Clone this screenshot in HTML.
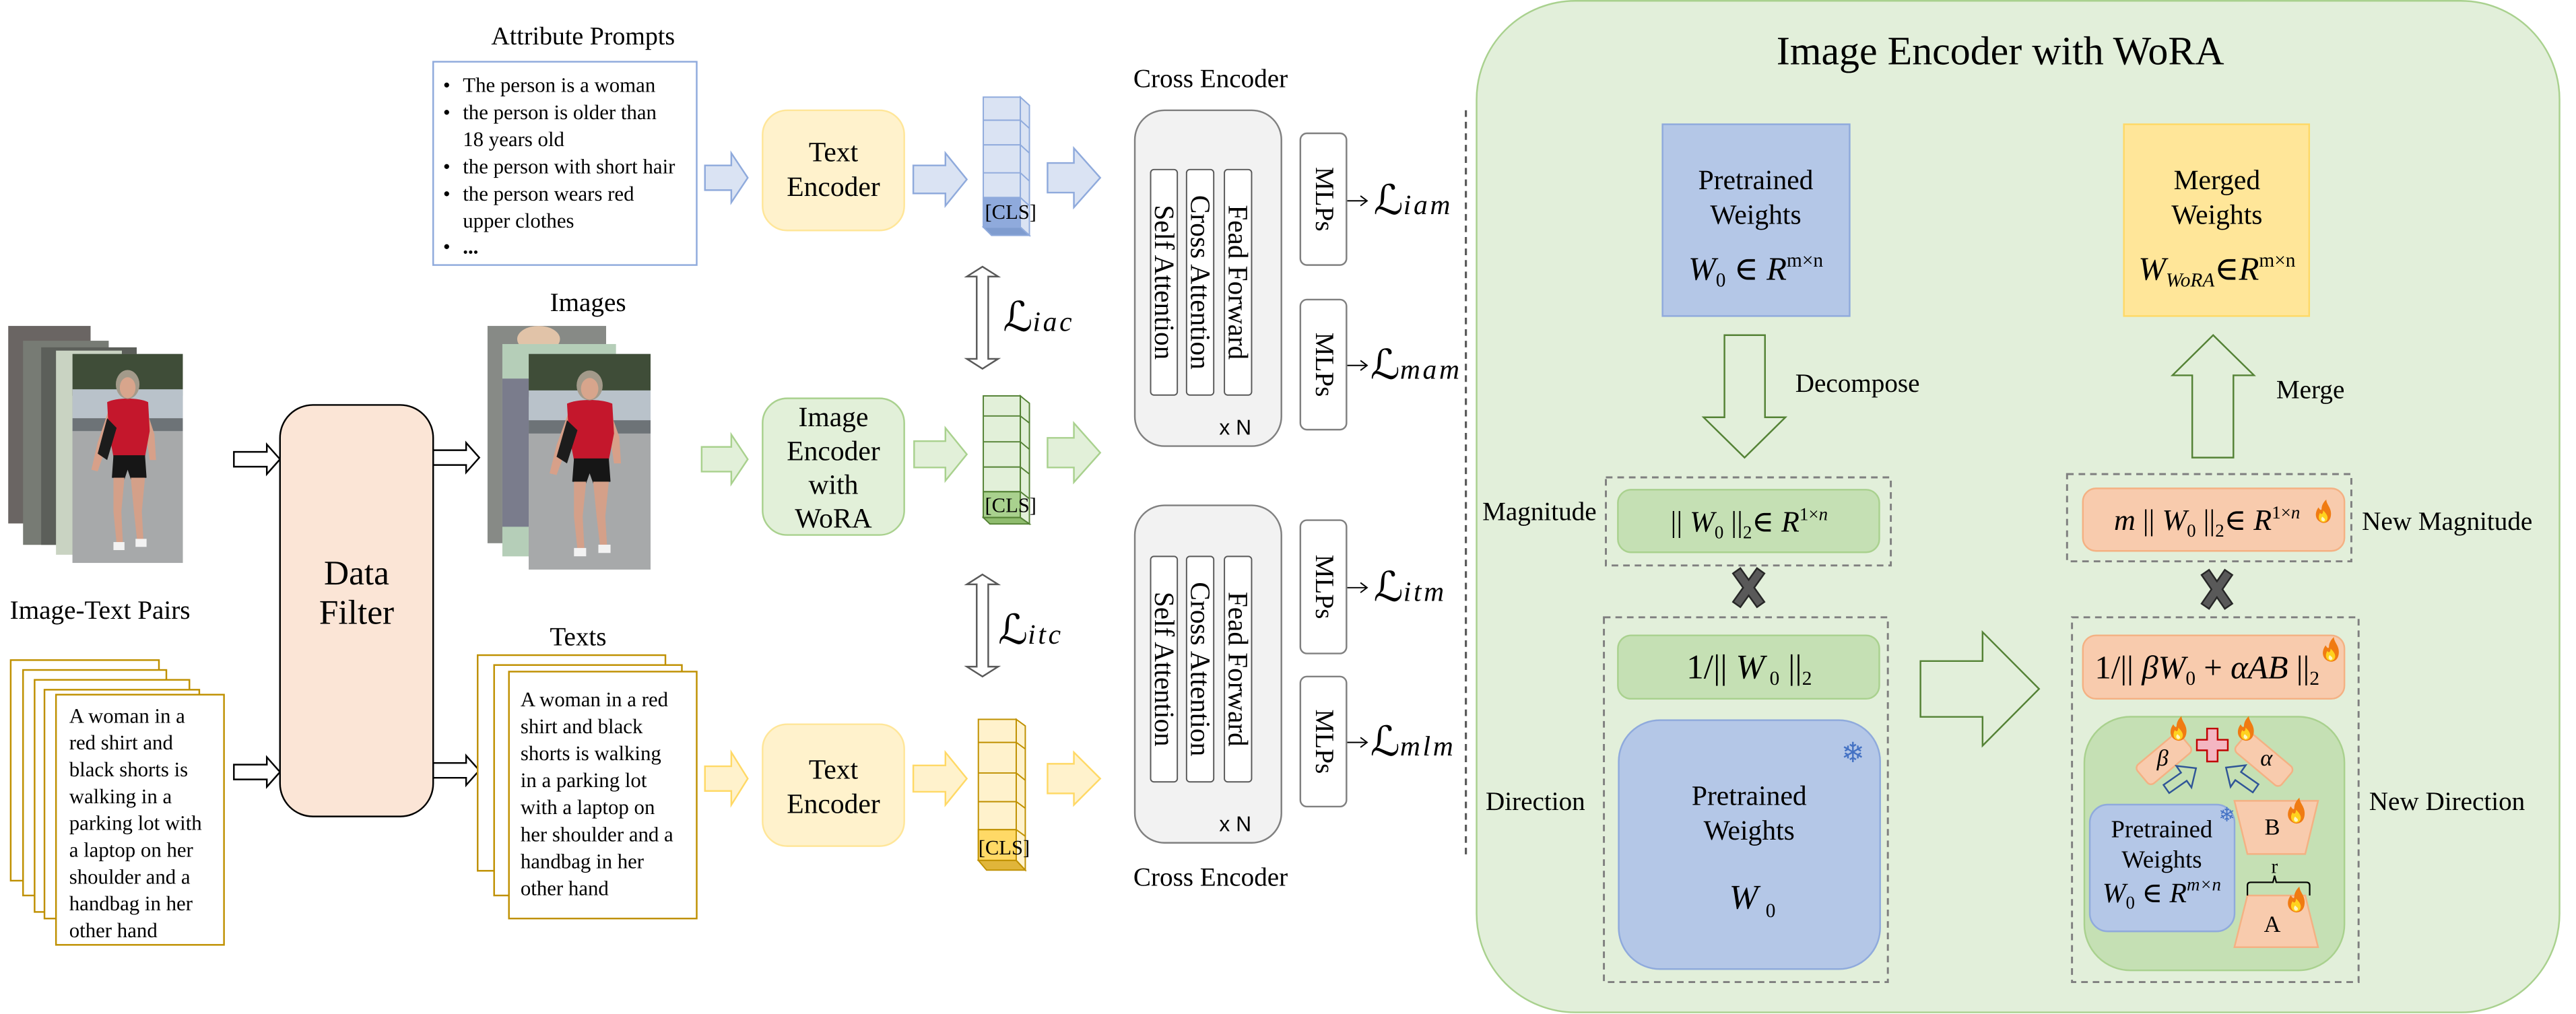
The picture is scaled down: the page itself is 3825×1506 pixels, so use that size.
<!DOCTYPE html>
<html><head><meta charset="utf-8"><style>
html,body{margin:0;padding:0;background:#fff;}
svg{display:block;text-rendering:geometricPrecision;}
text,tspan{font-family:"Liberation Serif","DejaVu Serif",serif;}
text{fill:#000;}
.it{font-style:italic;}
.sc{font-family:"DejaVu Serif","DejaVu Sans",serif;font-style:italic;}
</style></head><body>
<svg width="3825" height="1506" viewBox="0 0 1564 616" preserveAspectRatio="none" xmlns="http://www.w3.org/2000/svg" font-family="Liberation Serif, DejaVu Serif, serif" text-rendering="geometricPrecision">
<defs>
<g id="flame">
<path d="M0,6 C-5,5 -6,0 -3,-4 C-2,-2 -1,-2 -1,-3 C-1,-6 1,-8 2,-9 C2,-6 5,-4 5,0 C5,4 3,6 0,6Z" fill="#f07b12"/>
<path d="M0,5.5 C-3,5 -3.5,2 -2,-0.5 C-1,1 0,0 0,-2 C2,0 3.5,2 2.5,4 C2,5 1,5.5 0,5.5Z" fill="#ffd21f"/>
<path d="M0,5 C-1.5,4.5 -1.5,3 -0.5,2 C0.5,3 1.5,3.5 1,4.5Z" fill="#fff6c0"/>
</g>
<symbol id="person" viewBox="0 0 70 130" preserveAspectRatio="none">
<rect x="0" y="0" width="70" height="130" fill="#9a9d9f"/>
<rect x="0" y="0" width="70" height="26" fill="#3f4d38"/>
<rect x="0" y="22" width="70" height="24" fill="#b9c2ca"/>
<rect x="0" y="40" width="70" height="8" fill="#6d7377"/>
<rect x="0" y="48" width="70" height="82" fill="#a7a9aa"/>
<path d="M24,32 L16,55 L12,72 L16,73 L22,56 L27,42Z" fill="#d7a089"/>
<path d="M46,32 L52,50 L53,66 L49,66 L47,52 L43,42Z" fill="#d7a089"/>
<path d="M22,30 C28,27 42,27 48,30 L49,48 L46,64 L26,64 L23,48Z" fill="#c4172c"/>
<path d="M22,40 L16,62 L22,66 L28,46Z" fill="#1c1c1c"/>
<ellipse cx="35" cy="19" rx="7.5" ry="9" fill="#a39a8a"/>
<ellipse cx="35" cy="21" rx="5" ry="6.5" fill="#d8a58c"/>
<path d="M26,63 L46,63 L47,77 L37,78 L35,72 L33,78 L25,77Z" fill="#161616"/>
<path d="M26,77 L33,77 L31,98 L32,118 L28,118 L26,98Z" fill="#d4a089"/>
<path d="M37,77 L46,77 L44,98 L45,116 L41,116 L39,98Z" fill="#d4a089"/>
<rect x="26" y="117" width="7" height="5" fill="#f2f2f2"/>
<rect x="40" y="115" width="7" height="5" fill="#f2f2f2"/>
</symbol>
</defs>

<rect x="5" y="198" width="50" height="120" fill="#6a6563"/>
<rect x="14" y="207" width="52" height="124" fill="#777b74"/>
<rect x="25" y="211" width="58" height="120" fill="#5c5f5a"/>
<rect x="34" y="213" width="40" height="124" fill="#c9d3c2"/>
<use href="#person" x="44" y="215" width="67" height="127"/>
<text x="6" y="376" font-size="16.01">Image-Text Pairs</text>

<g fill="#fff" stroke="#bf9000" stroke-width="1">
<rect x="6.5" y="401" width="90" height="134"/>
<rect x="14" y="407" width="87" height="137"/>
<rect x="21" y="413" width="94" height="141"/>
<rect x="27" y="419" width="94" height="139"/>
<rect x="34" y="422" width="102" height="152"/>
</g>
<g font-size="12.61">
<text x="42" y="439">A woman in a</text>
<text x="42" y="455.3">red shirt and</text>
<text x="42" y="471.6">black shorts is</text>
<text x="42" y="487.9">walking in a</text>
<text x="42" y="504.2">parking lot with</text>
<text x="42" y="520.5">a laptop on her</text>
<text x="42" y="536.8">shoulder and a</text>
<text x="42" y="553.1">handbag in her</text>
<text x="42" y="569.4">other hand</text>
</g>

<g fill="#fff" stroke="#000" stroke-width="1">
<path d="M142,274.5 L162,274.5 L162,270 L170,279 L162,288 L162,283.5 L142,283.5Z"/>
<path d="M142,464.5 L162,464.5 L162,460 L170,469 L162,478 L162,473.5 L142,473.5Z"/>
<path d="M263,273.5 L283,273.5 L283,269 L291,278 L283,287 L283,282.5 L263,282.5Z"/>
<path d="M263,463.5 L283,463.5 L283,459 L291,468 L283,477 L283,472.5 L263,472.5Z"/>
</g>

<rect x="170" y="246" width="93" height="250" rx="20" fill="#fbe5d6" stroke="#000" stroke-width="1"/>
<text x="216.5" y="355" font-size="21.01" text-anchor="middle">Data</text>
<text x="216.5" y="379" font-size="21.01" text-anchor="middle">Filter</text>

<text x="354" y="27" font-size="15.51" text-anchor="middle">Attribute Prompts</text>
<rect x="263" y="37.5" width="160" height="123.5" fill="#fff" stroke="#8faadc" stroke-width="1"/>
<g font-size="12.61">
<text x="269" y="55.8">•</text><text x="281" y="55.8">The person is a woman</text>
<text x="269" y="72.3">•</text><text x="281" y="72.3">the person is older than</text>
<text x="281" y="88.8">18 years old</text>
<text x="269" y="105.3">•</text><text x="281" y="105.3">the person with short hair</text>
<text x="269" y="121.8">•</text><text x="281" y="121.8">the person wears red</text>
<text x="281" y="138.3">upper clothes</text>
<text x="269" y="154">•</text><text x="281" y="154" font-weight="bold">...</text>
</g>

<text x="357" y="189" font-size="16.01" text-anchor="middle">Images</text>
<rect x="296" y="198" width="72" height="132" fill="#878a86"/>
<ellipse cx="327" cy="206" rx="13" ry="8" fill="#e1c3a8"/>
<rect x="305" y="209" width="69" height="129" fill="#b5ceb8"/>
<rect x="305" y="230" width="16" height="90" fill="#7a7c8c"/>
<use href="#person" x="321" y="215" width="74" height="131"/>

<text x="351" y="392" font-size="16.01" text-anchor="middle">Texts</text>
<g fill="#fff" stroke="#bf9000" stroke-width="1">
<rect x="290" y="398" width="114" height="131"/>
<rect x="300" y="404" width="114" height="140"/>
<rect x="309" y="408" width="114" height="150"/>
</g>
<g font-size="12.61">
<text x="316" y="429">A woman in a red</text>
<text x="316" y="445.4">shirt and black</text>
<text x="316" y="461.8">shorts is walking</text>
<text x="316" y="478.2">in a parking lot</text>
<text x="316" y="494.6">with a laptop on</text>
<text x="316" y="511">her shoulder and a</text>
<text x="316" y="527.4">handbag in her</text>
<text x="316" y="543.8">other hand</text>
</g>

<path d="M428,100.5 L444,100.5 L444,93 L454,108 L444,123 L444,115.5 L428,115.5Z" fill="#dae3f3" stroke="#8faadc"/>
<path d="M426,271.5 L444,271.5 L444,264 L454,279 L444,294 L444,286.5 L426,286.5Z" fill="#e2f0d9" stroke="#a9d18e"/>
<path d="M428,465.5 L444,465.5 L444,457 L454,473 L444,489 L444,480.5 L428,480.5Z" fill="#fff2cc" stroke="#ffd966"/>

<rect x="463" y="67" width="86" height="73" rx="15" fill="#fff2cc" stroke="#ffe699" stroke-width="1"/>
<text x="506" y="98" font-size="17.01" text-anchor="middle">Text</text>
<text x="506" y="119" font-size="17.01" text-anchor="middle">Encoder</text>
<rect x="463" y="242" width="86" height="83" rx="15" fill="#e2f0d9" stroke="#a9d18e" stroke-width="1"/>
<text x="506" y="259" font-size="17.01" text-anchor="middle">Image</text>
<text x="506" y="279.5" font-size="17.01" text-anchor="middle">Encoder</text>
<text x="506" y="300" font-size="17.01" text-anchor="middle">with</text>
<text x="506" y="320.5" font-size="17.01" text-anchor="middle">WoRA</text>
<rect x="463" y="440" width="86" height="74" rx="15" fill="#fff2cc" stroke="#ffe699" stroke-width="1"/>
<text x="506" y="473" font-size="17.01" text-anchor="middle">Text</text>
<text x="506" y="494" font-size="17.01" text-anchor="middle">Encoder</text>

<path d="M554.5,100.5 L574,100.5 L574,93 L587,109 L574,125 L574,117.5 L554.5,117.5Z" fill="#dae3f3" stroke="#8faadc"/>
<path d="M555,268 L574,268 L574,260 L587,276 L574,292 L574,284 L555,284Z" fill="#e2f0d9" stroke="#a9d18e"/>
<path d="M554.5,465 L574,465 L574,457 L587,473 L574,489 L574,481 L554.5,481Z" fill="#fff2cc" stroke="#ffd966"/>

<g stroke="#8faadc" stroke-width="0.8">
<rect x="597" y="59" width="22.5" height="79" fill="#dae3f3"/>
<rect x="597" y="120" width="22.5" height="18" fill="#8faadc"/>
<path d="M619.5,59 L625,64 L625,143 L619.5,138Z" fill="#dae3f3"/>
<path d="M597,138 L619.5,138 L625,143 L602,143Z" fill="#7f9ccf"/>
<path d="M597,73 L619.5,73 L625,78 M597,88 L619.5,88 L625,93 M597,105 L619.5,105 L625,110 M597,120 L619.5,120 L625,125" fill="none"/>
</g>
<text x="598" y="133" font-size="12.51">[CLS]</text>
<g stroke="#548235" stroke-width="0.8">
<rect x="597" y="240.5" width="22.5" height="74" fill="#e2f0d9"/>
<rect x="597" y="298.7" width="22.5" height="15.7" fill="#a9d18e"/>
<path d="M619.5,240.5 L625,245 L625,318.3 L619.5,314.4Z" fill="#e2f0d9"/>
<path d="M597,314.4 L619.5,314.4 L625,318.3 L601,318.3Z" fill="#8fbc6e"/>
<path d="M597,252.7 L619.5,252.7 L625,257 M597,268.4 L619.5,268.4 L625,273 M597,283.7 L619.5,283.7 L625,288 M597,298.7 L619.5,298.7 L625,303" fill="none"/>
</g>
<text x="598" y="311" font-size="12.51">[CLS]</text>
<g stroke="#bf9000" stroke-width="0.8">
<rect x="594" y="437" width="23" height="85.7" fill="#fff2cc"/>
<rect x="594" y="504" width="23" height="18.7" fill="#ffd966"/>
<path d="M617,437 L622.5,441 L622.5,528.6 L617,522.7Z" fill="#fff2cc"/>
<path d="M594,522.7 L617,522.7 L622.5,528.6 L599,528.6Z" fill="#e0b53a"/>
<path d="M594,451 L617,451 L622.5,455 M594,469.6 L617,469.6 L622.5,474 M594,487 L617,487 L622.5,491 M594,504 L617,504 L622.5,508" fill="none"/>
</g>
<text x="594" y="519" font-size="12.51">[CLS]</text>

<g fill="#fff" stroke="#595959" stroke-width="1">
<path d="M596.5,162 L606,168 L600,168 L600,218 L606,218 L596.5,224 L587,218 L593,218 L593,168 L587,168Z"/>
<path d="M596.5,349 L606,355 L600,355 L600,405 L606,405 L596.5,411 L587,405 L593,405 L593,355 L587,355Z"/>
</g>
<text x="609" y="201"><tspan class="sc" font-size="25.01">ℒ</tspan><tspan class="it" font-size="17.01" letter-spacing="1.5">iac</tspan></text>
<text x="606" y="391"><tspan class="sc" font-size="25.01">ℒ</tspan><tspan class="it" font-size="17.01" letter-spacing="1.5">itc</tspan></text>

<path d="M636,99 L652,99 L652,90 L668,108 L652,126 L652,117 L636,117Z" fill="#dae3f3" stroke="#8faadc"/>
<path d="M636,266 L652,266 L652,257 L668,275 L652,293 L652,284 L636,284Z" fill="#e2f0d9" stroke="#a9d18e"/>
<path d="M636,464 L652,464 L652,457 L668,473 L652,489 L652,482 L636,482Z" fill="#fff2cc" stroke="#ffd966"/>

<text x="735" y="53" font-size="16.01" text-anchor="middle">Cross Encoder</text>
<rect x="689" y="67" width="89" height="204" rx="18" fill="#f2f2f2" stroke="#808080" stroke-width="1"/>
<g fill="#fff" stroke="#595959" stroke-width="0.8">
<rect x="698.6" y="103" width="16.2" height="137" rx="2"/>
<rect x="720.4" y="103" width="16.5" height="137" rx="2"/>
<rect x="743.4" y="103" width="16.5" height="137" rx="2"/>
</g>
<text transform="translate(706.7,171.5) rotate(90)" font-size="17.01" text-anchor="middle" dominant-baseline="central" textLength="94" lengthAdjust="spacingAndGlyphs">Self Attention</text>
<text transform="translate(728.6,171.5) rotate(90)" font-size="17.01" text-anchor="middle" dominant-baseline="central" textLength="106" lengthAdjust="spacingAndGlyphs">Cross Attention</text>
<text transform="translate(751.6,171.5) rotate(90)" font-size="17.01" text-anchor="middle" dominant-baseline="central" textLength="94" lengthAdjust="spacingAndGlyphs">Fead Forward</text>
<text x="750" y="264" font-size="13.01" text-anchor="middle" style="font-family:'Liberation Sans',sans-serif">x N</text>

<rect x="689" y="307" width="89" height="205" rx="18" fill="#f2f2f2" stroke="#808080" stroke-width="1"/>
<g fill="#fff" stroke="#595959" stroke-width="0.8">
<rect x="698.6" y="338" width="16.2" height="137" rx="2"/>
<rect x="720.4" y="338" width="16.5" height="137" rx="2"/>
<rect x="743.4" y="338" width="16.5" height="137" rx="2"/>
</g>
<text transform="translate(706.7,406.5) rotate(90)" font-size="17.01" text-anchor="middle" dominant-baseline="central" textLength="94" lengthAdjust="spacingAndGlyphs">Self Attention</text>
<text transform="translate(728.6,406.5) rotate(90)" font-size="17.01" text-anchor="middle" dominant-baseline="central" textLength="106" lengthAdjust="spacingAndGlyphs">Cross Attention</text>
<text transform="translate(751.6,406.5) rotate(90)" font-size="17.01" text-anchor="middle" dominant-baseline="central" textLength="94" lengthAdjust="spacingAndGlyphs">Fead Forward</text>
<text x="750" y="505" font-size="13.01" text-anchor="middle" style="font-family:'Liberation Sans',sans-serif">x N</text>
<text x="735" y="538" font-size="16.01" text-anchor="middle">Cross Encoder</text>

<g fill="#fff" stroke="#808080" stroke-width="1">
<rect x="789.5" y="81" width="28" height="80" rx="4"/>
<rect x="789.5" y="182" width="28" height="79" rx="4"/>
<rect x="789.5" y="316" width="28" height="81" rx="4"/>
<rect x="789.5" y="411" width="28" height="79" rx="4"/>
</g>
<g font-size="16.01" text-anchor="middle" dominant-baseline="central">
<text transform="translate(803.5,121) rotate(90)">MLPs</text>
<text transform="translate(803.5,221.5) rotate(90)">MLPs</text>
<text transform="translate(803.5,356.5) rotate(90)">MLPs</text>
<text transform="translate(803.5,450.5) rotate(90)">MLPs</text>
</g>
<g stroke="#000" stroke-width="0.8" fill="none">
<path d="M818,122 L830,122 M826,119 L830,122 L826,125"/>
<path d="M818,222 L830,222 M826,219 L830,222 L826,225"/>
<path d="M818,357 L830,357 M826,354 L830,357 L826,360"/>
<path d="M818,451 L830,451 M826,448 L830,451 L826,454"/>
</g>
<text x="834" y="130"><tspan class="sc" font-size="25.01">ℒ</tspan><tspan class="it" font-size="17.01" letter-spacing="1.5">iam</tspan></text>
<text x="832" y="230"><tspan class="sc" font-size="25.01">ℒ</tspan><tspan class="it" font-size="17.01" letter-spacing="1.5">mam</tspan></text>
<text x="834" y="365"><tspan class="sc" font-size="25.01">ℒ</tspan><tspan class="it" font-size="17.01" letter-spacing="1.5">itm</tspan></text>
<text x="832" y="459"><tspan class="sc" font-size="25.01">ℒ</tspan><tspan class="it" font-size="17.01" letter-spacing="1.5">mlm</tspan></text>

<line x1="890" y1="67" x2="890" y2="519" stroke="#595959" stroke-width="1.3" stroke-dasharray="4,3"/>

<rect x="896.5" y="0.5" width="657.5" height="614.5" rx="60" fill="#e2efda" stroke="#a9d18e" stroke-width="1"/>
<text x="1214.5" y="39" font-size="24.51" text-anchor="middle">Image Encoder with WoRA</text>

<rect x="1009.4" y="75.5" width="113.6" height="116.5" fill="#b4c7e7" stroke="#8faadc" stroke-width="1"/>
<text x="1066" y="115" font-size="17.01" text-anchor="middle">Pretrained</text>
<text x="1066" y="136" font-size="17.01" text-anchor="middle">Weights</text>
<text x="1066" y="170" font-size="20.01" text-anchor="middle"><tspan class="it">W</tspan><tspan font-size="12.01" dy="4">0</tspan><tspan dy="-4"> ∈ </tspan><tspan class="it">R</tspan><tspan font-size="12.01" dy="-8">m×n</tspan></text>

<rect x="1289.5" y="75.5" width="112.5" height="116.5" fill="#ffe699" stroke="#ffd966" stroke-width="1"/>
<text x="1346" y="115" font-size="17.01" text-anchor="middle">Merged</text>
<text x="1346" y="136" font-size="17.01" text-anchor="middle">Weights</text>
<text x="1346" y="170" font-size="20.01" text-anchor="middle"><tspan class="it">W</tspan><tspan class="it" font-size="12.01" dy="4">WoRA</tspan><tspan dy="-4">∈</tspan><tspan class="it">R</tspan><tspan font-size="12.01" dy="-8">m×n</tspan></text>

<g fill="none" stroke="#548235" stroke-width="1">
<path d="M1047,203.6 L1071.6,203.6 L1071.6,253.5 L1084,253.5 L1059.2,278 L1034.3,253.5 L1047,253.5Z"/>
<path d="M1331,278 L1356,278 L1356,228 L1368.5,228 L1343.7,203.6 L1319,228 L1331,228Z"/>
<path d="M1166,401.6 L1203.7,401.6 L1203.7,384 L1238,418.5 L1203.7,453 L1203.7,435.5 L1166,435.5Z"/>
</g>
<text x="1090" y="238" font-size="16.01">Decompose</text>
<text x="1382" y="242" font-size="16.01">Merge</text>

<text x="900" y="316" font-size="16.01">Magnitude</text>
<rect x="975" y="290" width="173" height="53.5" fill="none" stroke="#7f7f7f" stroke-width="1.2" stroke-dasharray="4,3"/>
<rect x="982.3" y="297.5" width="158.7" height="38" rx="8" fill="#c5e0b4" stroke="#a9d18e" stroke-width="1"/>
<text x="1062" y="323" font-size="18.01" text-anchor="middle">|| <tspan class="it">W</tspan><tspan font-size="11.01" dy="4">0</tspan><tspan dy="-4"> ||</tspan><tspan font-size="11.01" dy="4">2</tspan><tspan dy="-4">∈ </tspan><tspan class="it">R</tspan><tspan font-size="11.01" dy="-7">1×</tspan><tspan class="it" font-size="11.01">n</tspan></text>

<g stroke="#262626" stroke-width="6.5" stroke-linecap="square"><path d="M1056,349 L1067.4,365 M1067.4,349 L1056,365"/></g>
<g stroke="#595959" stroke-width="4.5" stroke-linecap="square"><path d="M1056,349 L1067.4,365 M1067.4,349 L1056,365"/></g>

<text x="902" y="492" font-size="16.01">Direction</text>
<rect x="973.8" y="375" width="172.4" height="221.6" fill="none" stroke="#7f7f7f" stroke-width="1.2" stroke-dasharray="4,3"/>
<rect x="982.3" y="386" width="158.7" height="38.5" rx="8" fill="#c5e0b4" stroke="#a9d18e" stroke-width="1"/>
<text x="1062" y="412" font-size="21.01" text-anchor="middle">1/|| <tspan class="it">W</tspan><tspan font-size="12.01" dy="4"> 0</tspan><tspan dy="-4"> ||</tspan><tspan font-size="12.01" dy="4">2</tspan></text>
<rect x="982.8" y="437.5" width="158.7" height="151.2" rx="25" fill="#b4c7e7" stroke="#8faadc" stroke-width="1"/>
<text x="1125" y="463" font-size="17.01" text-anchor="middle" style="font-family:'DejaVu Sans',sans-serif;fill:#4472c4">❄</text>
<text x="1062" y="489" font-size="17.01" text-anchor="middle">Pretrained</text>
<text x="1062" y="510" font-size="17.01" text-anchor="middle">Weights</text>
<text x="1058.7" y="552" font-size="21.01" class="it" text-anchor="middle">W</text>
<text x="1075" y="557" font-size="12.01" text-anchor="middle">0</text>

<rect x="1255" y="288" width="172.6" height="53" fill="none" stroke="#7f7f7f" stroke-width="1.2" stroke-dasharray="4,3"/>
<rect x="1264.6" y="296.7" width="158.8" height="38" rx="8" fill="#f8cbad" stroke="#f4b183" stroke-width="1"/>
<text x="1340" y="322" font-size="18.01" text-anchor="middle"><tspan class="it">m</tspan> || <tspan class="it">W</tspan><tspan font-size="11.01" dy="4">0</tspan><tspan dy="-4"> ||</tspan><tspan font-size="11.01" dy="4">2</tspan><tspan dy="-4">∈ </tspan><tspan class="it">R</tspan><tspan font-size="11.01" dy="-7">1×</tspan><tspan class="it" font-size="11.01">n</tspan></text>
<use href="#flame" transform="translate(1410.5,312) scale(0.95)"/>
<text x="1434" y="322" font-size="16.01">New Magnitude</text>

<g stroke="#262626" stroke-width="6.5" stroke-linecap="square"><path d="M1340.5,350 L1351.5,366 M1351.5,350 L1340.5,366"/></g>
<g stroke="#595959" stroke-width="4.5" stroke-linecap="square"><path d="M1340.5,350 L1351.5,366 M1351.5,350 L1340.5,366"/></g>

<rect x="1258" y="375" width="174" height="221.6" fill="none" stroke="#7f7f7f" stroke-width="1.2" stroke-dasharray="4,3"/>
<rect x="1264.6" y="386" width="158.8" height="38.5" rx="8" fill="#f8cbad" stroke="#f4b183" stroke-width="1"/>
<text x="1340" y="412" font-size="20.01" text-anchor="middle">1/|| <tspan class="it">βW</tspan><tspan font-size="12.01" dy="4">0</tspan><tspan dy="-4"> + </tspan><tspan class="it">αAB</tspan> ||<tspan font-size="12.01" dy="4">2</tspan></text>
<use href="#flame" transform="translate(1415,396) scale(1)"/>
<text x="1438.4" y="492" font-size="16.01">New Direction</text>

<rect x="1265.5" y="435.4" width="157.9" height="154.1" rx="28" fill="#c5e0b4" stroke="#a9d18e" stroke-width="1"/>
<g transform="translate(1313.8,461) rotate(-40)"><rect x="-17" y="-7.5" width="34" height="15" rx="3" fill="#f8cbad" stroke="#f4b183" stroke-width="1"/></g>
<g transform="translate(1374.5,461.4) rotate(40)"><rect x="-18" y="-7.5" width="36" height="15" rx="3" fill="#f8cbad" stroke="#f4b183" stroke-width="1"/></g>
<text x="1313" y="465" font-size="14.01" class="it" text-anchor="middle">β</text>
<text x="1376" y="465" font-size="14.01" class="it" text-anchor="middle">α</text>
<path d="M1340,442.6 L1346.4,442.6 L1346.4,449.4 L1352.6,449.4 L1352.6,455.8 L1346.4,455.8 L1346.4,462.6 L1340,462.6 L1340,455.8 L1333.8,455.8 L1333.8,449.4 L1340,449.4Z" fill="#f4b6c2" stroke="#c00000" stroke-width="1"/>
<use href="#flame" transform="translate(1322.5,444) scale(1)"/>
<use href="#flame" transform="translate(1363.4,444) scale(1)"/>
<g transform="translate(1324.3,473) rotate(-35)" fill="none" stroke="#2f5597" stroke-width="1"><path d="M-11,-3 L2,-3 L2,-8 L11,0 L2,8 L2,3 L-11,3Z"/></g>
<g transform="translate(1360.5,472.6) rotate(-145)" fill="none" stroke="#2f5597" stroke-width="1"><path d="M-11,-3 L2,-3 L2,-8 L11,0 L2,8 L2,3 L-11,3Z"/></g>

<rect x="1268.8" y="488.8" width="87.9" height="77" rx="11" fill="#b4c7e7" stroke="#8faadc" stroke-width="1"/>
<text x="1352" y="499" font-size="12.01" text-anchor="middle" style="font-family:'DejaVu Sans',sans-serif;fill:#4472c4">❄</text>
<text x="1312.5" y="508.6" font-size="15.01" text-anchor="middle">Pretrained</text>
<text x="1312.5" y="527" font-size="15.01" text-anchor="middle">Weights</text>
<text x="1312.5" y="548" font-size="17.01" text-anchor="middle"><tspan class="it">W</tspan><tspan font-size="11.01" dy="4">0</tspan><tspan dy="-4"> ∈ </tspan><tspan class="it">R</tspan><tspan class="it" font-size="11.01" dy="-7">m×n</tspan></text>

<path d="M1356.6,486.5 L1407.4,486.5 L1399.6,518.8 L1364.5,518.8Z" fill="#f8cbad" stroke="#f4b183" stroke-width="1"/>
<text x="1379.6" y="507" font-size="14.01" text-anchor="middle">B</text>
<use href="#flame" transform="translate(1394,494) scale(1.05)"/>
<path d="M1364.5,544 L1399.6,544 L1407.4,575.4 L1356.6,575.4Z" fill="#f8cbad" stroke="#f4b183" stroke-width="1"/>
<text x="1379.6" y="566" font-size="14.01" text-anchor="middle">A</text>
<use href="#flame" transform="translate(1394,548) scale(1.05)"/>
<path d="M1364.5,544 L1364.5,538 Q1364.5,536 1366.5,536 L1380,536 L1381,532 L1382,536 L1400.3,536 Q1402.3,536 1402.3,538 L1402.3,544" fill="none" stroke="#000" stroke-width="0.9"/>
<text x="1381" y="530.4" font-size="12.01" text-anchor="middle">r</text>
</svg>
</body></html>
